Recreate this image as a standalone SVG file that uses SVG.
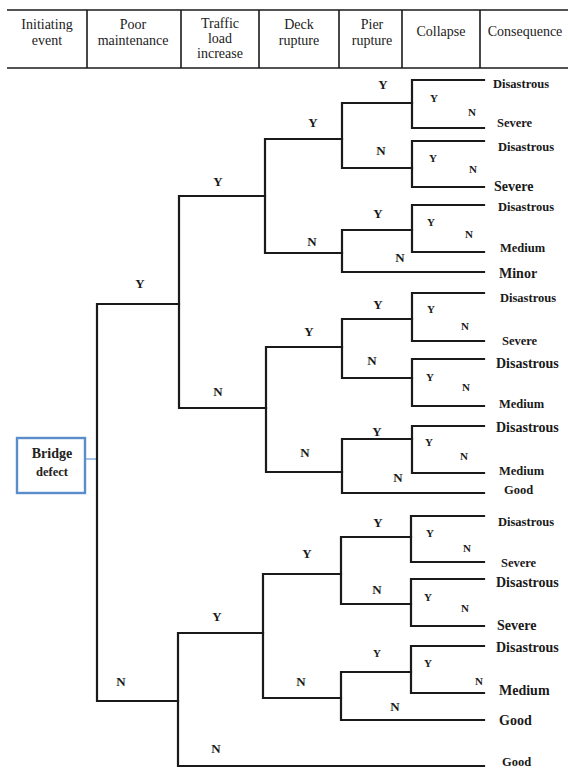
<svg xmlns="http://www.w3.org/2000/svg" width="568" height="769" viewBox="0 0 568 769">
  <style>
    text { font-family: "Liberation Serif", "DejaVu Serif", "Noto Serif", Times, serif; }
    .hdr { font-size: 14px; fill: #222; text-anchor: middle; }
    .rule { stroke: #1a1a1a; stroke-width: 1.6; fill: none; }
    .edge { stroke: #1a1a1a; stroke-width: 2.2; fill: none; stroke-linecap: square; stroke-linejoin: miter; }
    .yn { font-weight: bold; font-size: 13px; fill: #1a1a1a; text-anchor: middle; }
    .yn-s { font-weight: bold; font-size: 11px; fill: #1a1a1a; text-anchor: middle; }
    .out { font-weight: bold; font-size: 12.5px; fill: #1a1a1a; }
    .out-l { font-weight: bold; font-size: 14px; fill: #1a1a1a; }
    .box { fill: #fff; stroke: #5b8dcb; stroke-width: 2.4; }
    .lead { stroke: #8fb4e0; stroke-width: 1.6; }
    .boxtxt { font-weight: bold; fill: #222; text-anchor: middle; }
  </style>

  <!-- column header table -->
  <g id="header">
    <line class="rule" x1="7" y1="10" x2="568" y2="10"/>
    <line class="rule" x1="7" y1="68" x2="568" y2="68"/>
    <line class="rule" x1="87" y1="10" x2="87" y2="68"/>
    <line class="rule" x1="181" y1="10" x2="181" y2="68"/>
    <line class="rule" x1="259" y1="10" x2="259" y2="68"/>
    <line class="rule" x1="339" y1="10" x2="339" y2="68"/>
    <line class="rule" x1="402" y1="10" x2="402" y2="68"/>
    <line class="rule" x1="480" y1="10" x2="480" y2="68"/>
    <text class="hdr" x="47" y="29">Initiating</text>
    <text class="hdr" x="47" y="45">event</text>
    <text class="hdr" x="133" y="29">Poor</text>
    <text class="hdr" x="133" y="45">maintenance</text>
    <text class="hdr" x="220" y="28">Traffic</text>
    <text class="hdr" x="220" y="43">load</text>
    <text class="hdr" x="220" y="58">increase</text>
    <text class="hdr" x="299" y="29">Deck</text>
    <text class="hdr" x="299" y="45">rupture</text>
    <text class="hdr" x="372" y="29">Pier</text>
    <text class="hdr" x="372" y="45">rupture</text>
    <text class="hdr" x="441" y="36">Collapse</text>
    <text class="hdr" x="525" y="36">Consequence</text>
  </g>

  <!-- initiating event -->
  <g id="bridge-defect">
    <line class="lead" x1="85" y1="459" x2="97" y2="459"/>
    <rect class="box" x="17" y="438" width="68" height="55"/>
    <text class="boxtxt" x="52" y="458" font-size="14">Bridge</text>
    <text class="boxtxt" x="52" y="476" font-size="12.5">defect</text>
  </g>

  <!-- branches of the event tree -->
  <g id="connectors">
    <!-- poor maintenance -->
    <path class="edge" d="M179 304 H97 V701 H178"/>
    <!-- traffic load increase -->
    <path class="edge" d="M265 196 H179 V408 H266"/>
    <path class="edge" d="M263 633 H178 V766 H484"/>
    <!-- deck rupture -->
    <path class="edge" d="M342 139 H265 V253 H342"/>
    <path class="edge" d="M342 347 H266 V472 H342"/>
    <path class="edge" d="M341 574 H263 V698 H341"/>
    <!-- pier rupture -->
    <path class="edge" d="M412 103 H342 V168 H412"/>
    <path class="edge" d="M412 230 H342 V272 H484"/>
    <path class="edge" d="M412 319 H342 V378 H412"/>
    <path class="edge" d="M412 439 H342 V493 H484"/>
    <path class="edge" d="M411 537 H341 V604 H411"/>
    <path class="edge" d="M411 672 H341 V720 H484"/>
    <!-- collapse -->
    <path class="edge" d="M484 80 H412 V128 H484"/>
    <path class="edge" d="M484 141 H412 V187 H484"/>
    <path class="edge" d="M484 205 H412 V252 H484"/>
    <path class="edge" d="M484 293 H412 V341 H484"/>
    <path class="edge" d="M484 359 H412 V406 H484"/>
    <path class="edge" d="M484 426 H412 V473 H484"/>
    <path class="edge" d="M484 516 H411 V562 H484"/>
    <path class="edge" d="M484 579 H411 V626 H484"/>
    <path class="edge" d="M484 646 H411 V693 H484"/>
  </g>

  <!-- branch answers -->
  <g id="branch-labels">
    <text class="yn" x="140" y="288">Y</text>
    <text class="yn" x="121" y="686">N</text>

    <text class="yn" x="218" y="186">Y</text>
    <text class="yn" x="218" y="396">N</text>
    <text class="yn" x="217" y="621">Y</text>
    <text class="yn" x="216" y="753">N</text>

    <text class="yn" x="313" y="127">Y</text>
    <text class="yn" x="312" y="246">N</text>
    <text class="yn" x="309" y="336">Y</text>
    <text class="yn" x="305" y="457">N</text>
    <text class="yn" x="307" y="558">Y</text>
    <text class="yn" x="301" y="686">N</text>

    <text class="yn" x="383" y="89">Y</text>
    <text class="yn" x="381" y="155">N</text>
    <text class="yn" x="378" y="218">Y</text>
    <text class="yn" x="400" y="262">N</text>
    <text class="yn" x="378" y="309">Y</text>
    <text class="yn" x="372" y="365">N</text>
    <text class="yn" x="377" y="436">Y</text>
    <text class="yn" x="398" y="482">N</text>
    <text class="yn" x="378" y="527">Y</text>
    <text class="yn" x="377" y="594">N</text>
    <text class="yn-s" x="377" y="657">Y</text>
    <text class="yn" x="395" y="711">N</text>

    <text class="yn-s" x="434" y="102">Y</text>
    <text class="yn-s" x="472" y="116">N</text>
    <text class="yn-s" x="433" y="162">Y</text>
    <text class="yn-s" x="473" y="173">N</text>
    <text class="yn-s" x="431" y="226">Y</text>
    <text class="yn-s" x="469" y="238">N</text>
    <text class="yn-s" x="431" y="313">Y</text>
    <text class="yn-s" x="465" y="330">N</text>
    <text class="yn-s" x="430" y="381">Y</text>
    <text class="yn-s" x="466" y="391">N</text>
    <text class="yn-s" x="429" y="446">Y</text>
    <text class="yn-s" x="464" y="460">N</text>
    <text class="yn-s" x="430" y="537">Y</text>
    <text class="yn-s" x="467" y="552">N</text>
    <text class="yn-s" x="428" y="601">Y</text>
    <text class="yn-s" x="465" y="612">N</text>
    <text class="yn-s" x="428" y="667">Y</text>
    <text class="yn-s" x="479" y="685">N</text>
  </g>

  <!-- consequences -->
  <g id="consequences">
    <text class="out" x="493" y="88">Disastrous</text>
    <text class="out" x="497" y="127">Severe</text>
    <text class="out" x="498" y="151">Disastrous</text>
    <text class="out-l" x="494" y="191">Severe</text>
    <text class="out" x="498" y="211">Disastrous</text>
    <text class="out" x="500" y="252">Medium</text>
    <text class="out-l" x="499" y="278">Minor</text>
    <text class="out" x="500" y="302">Disastrous</text>
    <text class="out" x="502" y="345">Severe</text>
    <text class="out-l" x="496" y="368">Disastrous</text>
    <text class="out" x="499" y="408">Medium</text>
    <text class="out-l" x="496" y="432">Disastrous</text>
    <text class="out" x="499" y="475">Medium</text>
    <text class="out" x="504" y="494">Good</text>
    <text class="out" x="498" y="526">Disastrous</text>
    <text class="out" x="501" y="567">Severe</text>
    <text class="out-l" x="496" y="587">Disastrous</text>
    <text class="out-l" x="497" y="630">Severe</text>
    <text class="out-l" x="496" y="652">Disastrous</text>
    <text class="out-l" x="499" y="695">Medium</text>
    <text class="out-l" x="499" y="725">Good</text>
    <text class="out" x="502" y="766">Good</text>
  </g>
</svg>
